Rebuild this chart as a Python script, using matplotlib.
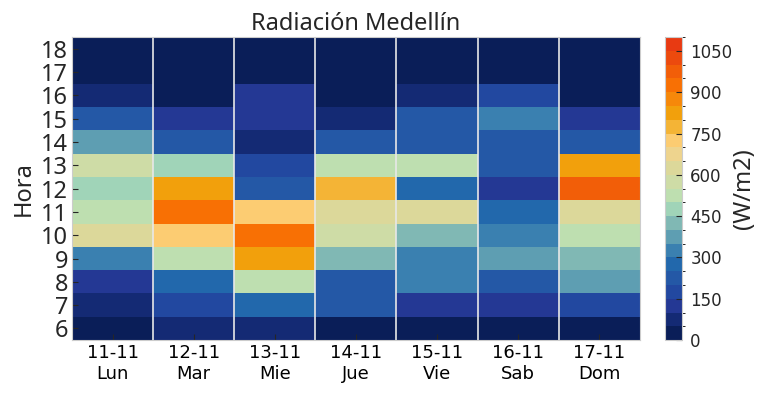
import numpy as np
import matplotlib
matplotlib.use("Agg")
import matplotlib.pyplot as plt
from matplotlib.colors import ListedColormap, BoundaryNorm

# days and hours
dias = ["11-11\nLun", "12-11\nMar", "13-11\nMie", "14-11\nJue",
        "15-11\nVie", "16-11\nSab", "17-11\nDom"]
horas = list(range(6, 19))

# radiacion (W/m2) por hora 6..18, una lista por dia
lun = [25, 75, 125, 325, 625, 525, 475, 575, 375, 225, 75, 25, 25]
mar = [75, 175, 275, 525, 725, 925, 825, 475, 225, 125, 25, 25, 25]
mie = [75, 275, 525, 825, 925, 725, 225, 175, 75, 125, 125, 25, 25]
jue = [25, 225, 225, 425, 575, 625, 775, 525, 225, 75, 25, 25, 25]
vie = [25, 125, 325, 325, 425, 625, 275, 525, 225, 225, 75, 25, 25]
sab = [25, 125, 225, 375, 325, 275, 125, 225, 225, 325, 175, 25, 25]
dom = [25, 175, 375, 425, 525, 625, 975, 825, 225, 125, 25, 25, 25]

colores = ["#0a1e58", "#142a74", "#243894", "#2248a0", "#2458a6", "#2268ac",
           "#3a80b0", "#5e9eb2", "#80b8b4", "#a0d4b8", "#bedfb0", "#cedca6",
           "#dcd89a", "#eed48e", "#fccc72", "#f4b436", "#f2a00c", "#f6880a",
           "#f87004", "#f25e08", "#ec4a0e", "#e83a12"]
niveles = np.arange(0, 1101, 50)

data = np.array([lun, mar, mie, jue, vie, sab, dom]).T

cmap = ListedColormap(colores)
norm = BoundaryNorm(niveles, cmap.N)

fig = plt.figure(figsize=(7.67, 3.95), dpi=100)
ax = fig.add_axes([0.094, 0.139, 0.740, 0.767])
cax = fig.add_axes([0.867, 0.139, 0.022, 0.767])

xe = np.arange(len(dias) + 1)
ye = np.arange(horas[0] - 0.5, horas[-1] + 1)
mesh = ax.pcolormesh(xe, ye, data, cmap=cmap, norm=norm)

for x in xe[1:-1]:
    ax.axvline(x, color="#e8e8e8", lw=1.2)

ax.set_xlim(0, len(dias))
ax.set_ylim(ye[0], ye[-1])
ax.set_xticks(np.arange(len(dias)) + 0.5)
ax.set_xticklabels(dias, fontsize=13, color="black", family="DejaVu Sans")
ax.set_yticks(horas)
ax.set_yticklabels([str(h) for h in horas], fontsize=17, color="#262626",
                   family="Noto Sans")
ax.tick_params(direction="in", length=4, width=0.8, color="#262626", pad=3)
ax.set_ylabel("Hora", fontsize=17, color="#262626", family="Noto Sans", labelpad=4)
ax.set_title("Radiación Medellín", fontsize=17, color="#262626",
             family="Noto Sans", pad=5)
for s in ax.spines.values():
    s.set_color("#cccccc")

cb = fig.colorbar(mesh, cax=cax, ticks=np.arange(0, 1051, 150))
cb.ax.tick_params(direction="in", length=4, width=0.8, labelsize=12,
                  colors="#262626", pad=6)
cb.outline.set_edgecolor("#cccccc")
cb.set_label("(W/m2)", fontsize=17, color="#262626", family="Noto Sans", labelpad=0)

fig.savefig("out.png", dpi=100)
